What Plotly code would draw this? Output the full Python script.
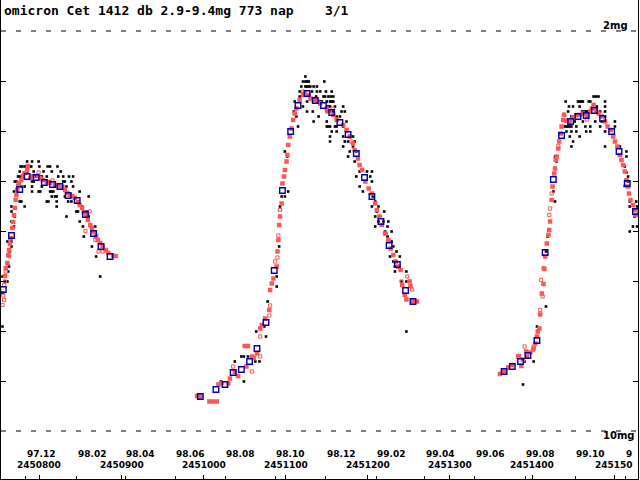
import plotly.graph_objects as go

JD0 = 2450000

# visual estimates (black) -- day = JD - 2450000
vis_day = [
    785, 791, 799,
    777, 779, 782, 788, 790, 800, 810, 813, 822,
    776, 785, 793, 805, 815, 826,
    774, 776, 795, 797, 799, 801, 803, 809, 823, 829, 836, 841,
    770, 772, 791, 793, 811, 813, 829, 831, 839,
    774, 778, 782, 791, 803, 833, 841,
    769, 791, 799, 801, 813, 815, 817, 849,
    815, 819, 821, 831, 841, 860,
    776, 778, 809, 811, 821, 835, 839,
    766, 782, 821, 852,
    766, 845, 847, 858,
    770, 833, 860,
    766, 849, 769, 853, 868, 854,
    761, 766, 766, 864, 764, 869,
    763, 762, 755, 874, 758, 761, 754, 756, 755,
    # 1998 maximum
    1124, 1121, 1124, 1126, 1128, 1147,
    1119, 1124, 1126, 1128, 1130, 1134, 1138,
    1117, 1132, 1138, 1142, 1149, 1156,
    1117, 1137, 1146, 1148, 1152, 1155, 1158,
    1111, 1126, 1142, 1144, 1150, 1154, 1156, 1158,
    1121, 1150, 1152, 1154, 1160, 1170,
    1110, 1126, 1133, 1150, 1152, 1154, 1158, 1168, 1172,
    1113, 1140, 1162, 1166, 1134, 1150, 1174,
    1115, 1150, 1152, 1154, 1160, 1162, 1170,
    1156, 1162, 1174, 1154, 1170, 1182,
    1154, 1172, 1176, 1184, 1170, 1182,
    1099, 1178, 1186, 1102, 1176, 1184,
    1190, 1199, 1205, 1186, 1203, 1205, 1190,
    1103, 1194, 1095, 1099, 1206, 1209,
    1093, 1205, 1213, 1211, 1220, 1209, 1215,
    1213, 1219, 1225, 1209, 1224, 1221, 1229,
    1224, 1229, 1092, 1231, 1235, 1227, 1239,
    1231, 1233, 1233, 1247, 1089, 1241, 1247, 1089,
    1078, 1074, 1064, 1247, 1076,
    1046, 1049, 1054, 1038, 1063, 1068, 1021, 1049,
    # 1999 maximum
    1475, 1478, 1481,
    1441, 1456, 1458, 1460, 1462, 1469, 1471, 1489,
    1445, 1450, 1458, 1479, 1489,
    1444, 1461, 1463, 1465, 1467, 1483, 1489,
    1448, 1467, 1489,
    1452, 1462, 1477, 1485, 1501,
    1440, 1442, 1444, 1446, 1448, 1454, 1465, 1471, 1483, 1501,
    1442, 1448, 1454, 1466, 1471, 1489,
    1446, 1458, 1450, 1448, 1489, 1507,
    1515, 1428, 1515, 1430, 1513, 1515, 1517, 1517, 1513,
    1426, 1428, 1519, 1527, 1519, 1528,
    1525, 1523, 1528, 1519, 1419, 1417, 1417, 1406,
    1391, 1402, 1389,
]
vis_mag = [
    4.61, 4.61, 4.61,
    4.71, 4.71, 4.71, 4.71, 4.71, 4.71, 4.71, 4.71, 4.71,
    4.81, 4.81, 4.81, 4.81, 4.81, 4.81,
    4.91, 4.91, 4.91, 4.91, 4.91, 4.91, 4.91, 4.91, 4.91, 4.91, 4.91, 4.91,
    5.01, 5.01, 5.01, 5.01, 5.01, 5.01, 5.01, 5.01, 5.01,
    5.11, 5.11, 5.11, 5.11, 5.11, 5.11, 5.11,
    5.21, 5.21, 5.21, 5.21, 5.21, 5.21, 5.21, 5.21,
    5.31, 5.31, 5.31, 5.31, 5.31, 5.31,
    5.41, 5.41, 5.41, 5.41, 5.41, 5.41, 5.41,
    5.51, 5.51, 5.51, 5.51,
    5.61, 5.61, 5.61, 5.61,
    5.71, 5.71, 5.71,
    5.81, 5.81, 5.91, 5.91, 5.91, 6.11,
    6.21, 6.21, 6.31, 6.31, 6.41, 6.51,
    6.71, 6.81, 6.91, 6.91, 7.01, 7.01, 7.24, 7.24, 7.91,
    # 1998 maximum
    2.91, 3.01, 3.01, 3.01, 3.01, 3.01,
    3.11, 3.11, 3.11, 3.11, 3.11, 3.11, 3.11,
    3.21, 3.21, 3.21, 3.21, 3.21, 3.21,
    3.31, 3.31, 3.31, 3.31, 3.31, 3.31, 3.31,
    3.41, 3.41, 3.41, 3.41, 3.41, 3.41, 3.41, 3.41,
    3.51, 3.51, 3.51, 3.51, 3.51, 3.51,
    3.61, 3.61, 3.61, 3.61, 3.61, 3.61, 3.61, 3.61, 3.61,
    3.71, 3.71, 3.71, 3.71, 3.81, 3.81, 3.81,
    3.91, 3.91, 3.91, 3.91, 3.91, 3.91, 3.91,
    4.01, 4.01, 4.01, 4.11, 4.11, 4.11,
    4.21, 4.21, 4.21, 4.21, 4.31, 4.31,
    4.41, 4.41, 4.41, 4.51, 4.51, 4.61,
    4.81, 4.81, 4.81, 4.91, 4.91, 5.01, 5.11,
    5.21, 5.21, 5.31, 5.31, 5.31, 5.41,
    5.51, 5.51, 5.51, 5.61, 5.61, 5.71, 5.71,
    5.81, 5.81, 5.81, 5.91, 5.91, 6.01, 6.01,
    6.11, 6.21, 6.31, 6.31, 6.41, 6.51, 6.51,
    6.61, 6.71, 6.81, 6.81, 6.91, 7.01, 7.01, 7.11,
    7.41, 7.91, 8.01, 8.01, 8.11,
    8.51, 8.51, 8.51, 8.61, 8.61, 8.61, 9.01, 9.01,
    # 1999 maximum
    3.31, 3.31, 3.31,
    3.41, 3.41, 3.41, 3.41, 3.41, 3.41, 3.41, 3.41,
    3.51, 3.51, 3.51, 3.51, 3.51,
    3.61, 3.61, 3.61, 3.61, 3.61, 3.61, 3.61,
    3.71, 3.71, 3.71,
    3.81, 3.81, 3.81, 3.81, 3.81,
    3.91, 3.91, 3.91, 3.91, 3.91, 3.91, 3.91, 3.91, 3.91, 3.91,
    4.01, 4.01, 4.01, 4.01, 4.01, 4.01,
    4.11, 4.11, 4.21, 4.31, 4.31, 4.31,
    4.41, 4.51, 4.51, 4.61, 4.71, 4.83, 4.91, 5.01, 5.10,
    5.21, 5.41, 5.41, 5.41, 5.51, 5.51,
    5.71, 5.91, 5.91, 6.01, 6.11, 6.41, 7.51, 7.91,
    8.61, 8.61, 9.07,
]

# CCD / photoelectric (red, filled)
ccd_day = [
    758, 759, 761, 762, 763, 764, 765, 767, 768, 769, 770, 771, 772, 773,
    774, 775, 778, 780, 782, 785, 786, 789, 792, 798, 801, 804, 809, 813,
    819, 823, 828, 831, 834, 837, 840, 843, 847, 849, 852, 854, 857, 859,
    862, 864, 866, 869, 871, 874, 877, 881, 884, 890, 893,
    992, 996, 1007, 1011, 1016, 1018, 1022, 1030, 1032, 1038, 1042, 1050,
    1052, 1054, 1059, 1061, 1065, 1069, 1071, 1075, 1080, 1081, 1083, 1085,
    1089, 1090, 1091, 1092, 1093, 1095, 1096, 1098, 1099, 1101, 1102, 1103,
    1105, 1107, 1109, 1111, 1113, 1117, 1121, 1123, 1128, 1130, 1134, 1138,
    1142, 1150, 1152, 1158, 1162, 1170, 1174, 1178, 1182, 1184, 1188, 1190,
    1193, 1197, 1201, 1205, 1209, 1211, 1214, 1217, 1221, 1225, 1228, 1231,
    1234, 1237, 1240, 1242, 1245, 1247, 1251, 1252, 1255, 1260,
    1361, 1366, 1371, 1376, 1383, 1384, 1387, 1389, 1393, 1394, 1398, 1402,
    1404, 1406, 1407, 1409, 1410, 1412, 1414, 1415, 1416, 1418, 1420, 1421,
    1422, 1424, 1425, 1427, 1428, 1429, 1430, 1432, 1433, 1435, 1436, 1438,
    1439, 1442, 1446, 1450, 1454, 1458, 1462, 1467, 1471, 1473, 1475, 1478,
    1481, 1485, 1489, 1492, 1496, 1499, 1501, 1504, 1507, 1509, 1511, 1513,
    1515, 1517, 1518, 1520, 1523, 1525, 1527,
]
ccd_mag = [
    6.90, 6.74, 6.64, 6.48, 6.38, 6.26, 6.14, 5.94, 5.82, 5.68, 5.54, 5.38, 5.28, 5.18,
    5.10, 5.04, 4.98, 4.90, 4.84, 4.78, 4.70, 4.94, 4.90, 4.90, 4.94, 4.98, 5.02, 5.04,
    5.08, 5.10, 5.12, 5.18, 5.24, 5.28, 5.30, 5.34, 5.42, 5.48, 5.54, 5.62, 5.68, 5.78,
    5.88, 5.94, 6.02, 6.10, 6.18, 6.24, 6.30, 6.38, 6.44, 6.50, 6.50,
    9.30, 9.31, 9.41, 9.41, 9.41, 9.07, 9.04, 9.05, 8.95, 8.82, 8.90, 8.30,
    8.71, 8.30, 8.51, 8.54, 8.45, 7.95, 7.88, 7.75, 7.58, 7.18, 7.05, 6.95,
    6.71, 6.41, 6.18, 5.88, 5.71, 5.45, 5.05, 4.91, 4.78, 4.61, 4.48, 4.28,
    4.11, 3.95, 3.78, 3.65, 3.55, 3.38, 3.28, 3.25, 3.28, 3.35, 3.38, 3.39,
    3.45, 3.55, 3.61, 3.68, 3.78, 3.88, 3.98, 4.11, 4.25, 4.38, 4.55, 4.68,
    4.78, 5.01, 5.15, 5.25, 5.45, 5.58, 5.71, 5.88, 6.05, 6.18, 6.35, 6.48,
    6.61, 6.71, 6.78, 7.08, 7.28, 7.37, 7.01, 7.10, 7.41, 7.41,
    8.86, 8.81, 8.73, 8.68, 8.51, 8.50, 8.70, 8.57, 8.41, 8.51, 8.43, 8.35,
    8.25, 8.11, 8.01, 7.95, 7.67, 7.25, 7.06, 6.76, 6.51, 6.25, 6.08, 5.98,
    5.81, 5.38, 5.11, 4.85, 4.75, 4.58, 4.51, 4.35, 4.21, 4.05, 3.91, 3.78,
    3.68, 3.79, 3.81, 3.73, 3.68, 3.68, 3.65, 3.68, 3.61, 3.55, 3.48, 3.59,
    3.65, 3.71, 3.81, 3.91, 3.98, 4.11, 4.21, 4.31, 4.48, 4.58, 4.68, 4.81,
    4.98, 5.11, 5.25, 5.38, 5.48, 5.58, 5.68,
]

# other red estimates (open squares)
red_open_day = [
    755, 756, 757, 757, 758, 759, 763, 765, 799, 816, 856, 861, 868, 872, 877,
    1036, 1059, 1069, 1069, 1080, 1081, 1087, 1090, 1091, 1093, 1121, 1157,
    1180, 1222, 1241, 1248, 1254,
    1391, 1401, 1402, 1410, 1411, 1413, 1414, 1421, 1422, 1424, 1432, 1439, 1467,
]
red_open_mag = [
    7.48, 7.29, 7.38, 7.08, 7.01, 6.81, 6.50, 6.19, 4.83, 4.99, 6.00, 5.61, 6.18, 6.41, 6.41,
    8.71, 8.81, 8.11, 8.51, 7.69, 7.49, 6.61, 6.53, 6.09, 5.58, 3.21, 3.55,
    4.21, 6.05, 7.01, 6.91, 7.17,
    8.31, 8.38, 8.31, 7.58, 6.98, 7.31, 6.74, 5.68, 5.55, 5.25, 4.30, 3.67, 3.77,
]

# 10-day means (blue)
mean_day = [
    756, 766, 776, 785, 796, 806, 816, 825, 835, 846, 856, 866, 875, 886,
    996, 1015, 1026, 1036, 1046, 1056, 1065, 1076, 1086, 1096, 1106, 1115, 1126,
    1136, 1146, 1156, 1166, 1176, 1186, 1196, 1205, 1216, 1226, 1236, 1246, 1255,
    1366, 1376, 1386, 1395, 1406, 1416, 1426, 1436, 1447, 1456, 1466, 1476, 1486,
    1497, 1506, 1516, 1526,
]
mean_mag = [
    7.17, 6.09, 5.17, 4.91, 4.93, 5.03, 5.07, 5.11, 5.29, 5.39, 5.67, 6.05, 6.31, 6.51,
    9.31, 9.17, 9.07, 8.83, 8.77, 8.61, 8.35, 7.83, 6.79, 5.19, 4.01, 3.49, 3.25,
    3.39, 3.49, 3.63, 3.83, 4.07, 4.45, 4.93, 5.31, 5.81, 6.29, 6.67, 7.19, 7.41,
    8.81, 8.71, 8.61, 8.49, 8.19, 6.43, 4.97, 4.09, 3.81, 3.71, 3.69, 3.59, 3.75,
    4.01, 4.41, 5.05, 5.61,
]

jd_ticks = [2450800, 2450900, 2451000, 2451100, 2451200, 2451300, 2451400, 2451500]
jd_labels = ["2450800", "2450900", "2451000", "2451100", "2451200", "2451300", "2451400", "245150"]
month_ticks = [2450783.5, 2450845.5, 2450904.5, 2450965.5, 2451026.5, 2451087.5, 2451148.5,
               2451210.5, 2451269.5, 2451330.5, 2451391.5, 2451452.5, 2451513.5]
month_labels = ["97.12", "98.02", "98.04", "98.06", "98.08", "98.10", "98.12",
                "99.02", "99.04", "99.06", "99.08", "99.10", "9"]
mag_ticks = [3, 4, 5, 6, 7, 8, 9]

assert len(vis_day) == len(vis_mag)
assert len(ccd_day) == len(ccd_mag)
assert len(red_open_day) == len(red_open_mag)
assert len(mean_day) == len(mean_mag)

RED = "#ff5555"
BLUE = "#0000aa"
MONO = "DejaVu Sans Mono"
SANS = "DejaVu Sans"

fig = go.Figure()
fig.add_trace(go.Scatter(x=[JD0 + d for d in vis_day], y=vis_mag, mode="markers",
                         marker=dict(symbol="square", size=2.6, color="black", line_width=0)))
fig.add_trace(go.Scatter(x=[JD0 + d for d in ccd_day], y=ccd_mag, mode="markers",
                         marker=dict(symbol="square", size=4.5, color=RED, line_width=0)))
fig.add_trace(go.Scatter(x=[JD0 + d for d in red_open_day], y=red_open_mag, mode="markers",
                         marker=dict(symbol="square-open", size=3.2, color=RED, line=dict(width=1, color=RED))))
fig.add_trace(go.Scatter(x=[JD0 + d for d in mean_day], y=mean_mag, mode="markers",
                         marker=dict(symbol="square-open", size=5.5, color=BLUE, line=dict(width=1.4, color=BLUE))))

# 2mg / 10mg dashed limits
for m in (2, 10):
    fig.add_shape(type="line", xref="paper", x0=0, x1=1, yref="y", y0=m, y1=m,
                  line=dict(color="black", width=1, dash="5px,10px"))

def txt(x, y, s, size=10, xanchor="left", xref="paper", family=SANS):
    fig.add_annotation(x=x, y=y, xref=xref, yref="paper", text=s, showarrow=False,
                       xanchor=xanchor, yanchor="middle", borderpad=0,
                       font=dict(family=family, size=size, color="black", weight="bold"))

txt(0.003, 0.979, "omicron Cet 1412 db 2.9-9.4mg 773 nap\u00a0\u00a0\u00a0\u00a03/1", size=13, family=MONO)
txt(0.944, 0.946, "2mg")
txt(0.944, 0.090, "10mg")
for t, s in zip(month_ticks, month_labels):
    txt(t, 0.052, s, size=9, xref="x")
for t, s in zip(jd_ticks, jd_labels):
    txt(t, 0.029, s, size=9, xanchor="center", xref="x")

fig.update_layout(
    width=640, height=480,
    margin=dict(l=1, r=2, t=0, b=1),
    paper_bgcolor="white", plot_bgcolor="white",
    showlegend=False,
    xaxis=dict(range=[2450753.2, 2451529.1], showgrid=False, zeroline=False,
               showline=True, linecolor="black", linewidth=1,
               ticks="inside", tickvals=jd_ticks, ticklen=4, tickcolor="black",
               showticklabels=False,
               minor=dict(tickvals=month_ticks, ticks="inside", ticklen=3, tickcolor="black")),
    yaxis=dict(range=[10.96, 1.38], showgrid=False, zeroline=False,
               showline=True, linecolor="black", linewidth=1, mirror="ticks",
               ticks="inside", tickvals=mag_ticks, ticklen=5, tickcolor="black",
               showticklabels=False),
)

# page body has an 8px default margin; drop it so the figure fills the window
fig.write_html("out.html", config={"displayModeBar": False},
               post_script="document.body.style.margin='0px';")
